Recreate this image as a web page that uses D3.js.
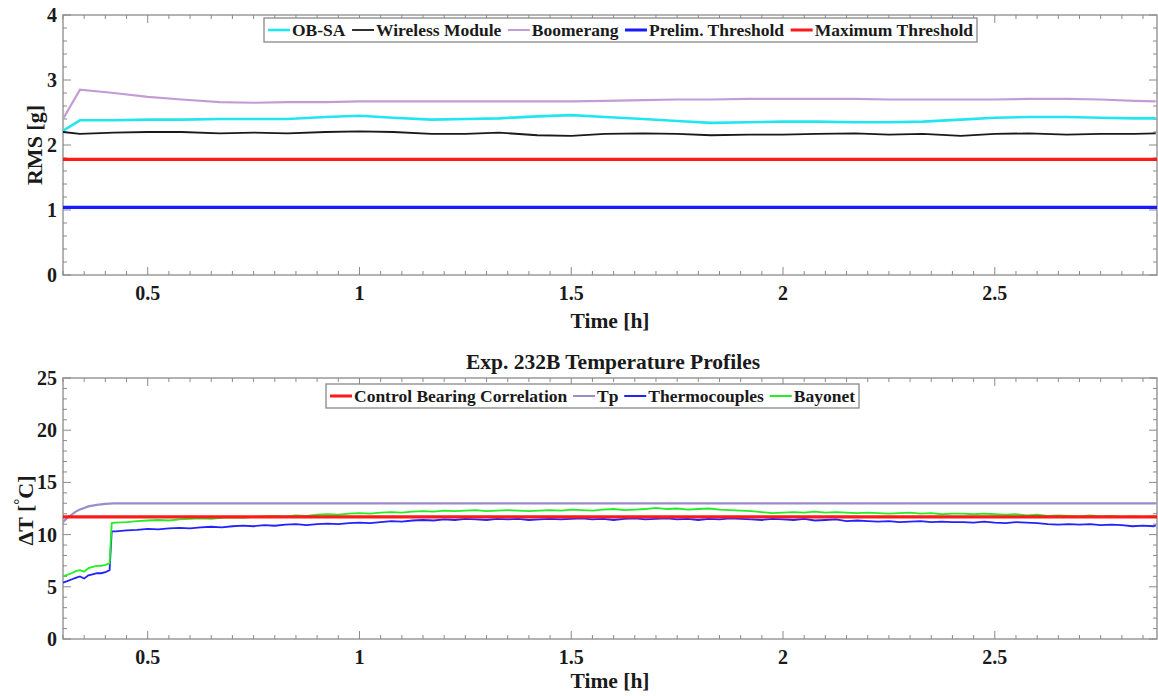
<!DOCTYPE html>
<html><head><meta charset="utf-8">
<script src="https://cdn.jsdelivr.net/npm/d3@7"></script>
<style>
html,body{margin:0;padding:0;background:#fff;}
svg text{font-family:"Liberation Serif","Times New Roman",serif;font-weight:bold;fill:#1a1a1a;}
</style></head><body>
<svg id="chart" width="1158" height="696"></svg>
<script>
// ---------------- DATA ----------------
const xTickValues = [0.5, 1, 1.5, 2, 2.5];
const xDomain = [0.3, 2.883];

// Top panel: RMS
const rmsTime = [0.30,0.34,0.42,0.50,0.58,0.67,0.75,0.83,0.92,1.00,1.08,1.17,1.25,1.33,1.42,1.50,1.58,1.67,1.75,1.83,1.92,2.00,2.08,2.17,2.25,2.33,2.42,2.50,2.58,2.67,2.75,2.83,2.88];
const obsa = [2.22,2.38,2.38,2.39,2.39,2.40,2.40,2.40,2.43,2.45,2.42,2.39,2.40,2.41,2.44,2.46,2.43,2.40,2.37,2.34,2.35,2.36,2.36,2.35,2.35,2.36,2.39,2.42,2.43,2.43,2.42,2.41,2.41];
const wireless = [2.20,2.17,2.19,2.20,2.20,2.18,2.19,2.18,2.20,2.21,2.20,2.17,2.17,2.19,2.15,2.14,2.17,2.18,2.17,2.15,2.16,2.16,2.17,2.18,2.16,2.17,2.14,2.17,2.18,2.16,2.17,2.17,2.18];
const boomerang = [2.40,2.85,2.80,2.74,2.70,2.66,2.65,2.66,2.66,2.67,2.67,2.67,2.67,2.67,2.67,2.67,2.68,2.69,2.70,2.70,2.71,2.71,2.71,2.71,2.70,2.70,2.70,2.70,2.71,2.71,2.70,2.68,2.67];
const prelimThreshold = 1.04;
const maximumThreshold = 1.78;
const rmsYTicks = [0, 1, 2, 3, 4];
const rmsLegend = ["OB-SA", "Wireless Module", "Boomerang", "Prelim. Threshold", "Maximum Threshold"];

// Bottom panel: temperature
const tempTime = [
  0.30,0.31,0.32,0.33,0.34,0.35,0.36,0.37,0.38,0.39,0.40,0.41,0.415,
  0.425,0.45,0.475,0.5,0.525,0.55,0.575,0.6,0.625,0.65,
  0.675,0.7,0.725,0.75,0.775,0.8,0.825,0.85,0.875,0.9,
  0.925,0.95,0.975,1.0,1.025,1.05,1.075,1.1,1.125,1.15,
  1.175,1.2,1.225,1.25,1.275,1.3,1.325,1.35,1.375,1.4,
  1.425,1.45,1.475,1.5,1.525,1.55,1.575,1.6,1.625,1.65,
  1.675,1.7,1.725,1.75,1.775,1.8,1.825,1.85,1.875,1.9,
  1.925,1.95,1.975,2.0,2.025,2.05,2.075,2.1,2.125,2.15,
  2.175,2.2,2.225,2.25,2.275,2.3,2.325,2.35,2.375,2.4,
  2.425,2.45,2.475,2.5,2.525,2.55,2.575,2.6,2.625,2.65,
  2.675,2.7,2.725,2.75,2.775,2.8,2.825,2.85,2.875,2.88];
const thermocouples = [
  5.4,5.55,5.7,5.85,6.0,5.8,6.1,6.2,6.3,6.3,6.4,6.6,10.3,
  10.3,10.4,10.45,10.55,10.5,10.6,10.65,10.6,10.7,10.75,
  10.7,10.8,10.85,10.8,10.9,10.85,10.95,11.0,10.9,11.0,
  11.05,11.0,11.1,11.15,11.1,11.2,11.3,11.25,11.35,11.4,
  11.35,11.45,11.4,11.5,11.45,11.4,11.5,11.45,11.5,11.4,
  11.45,11.5,11.45,11.5,11.55,11.45,11.5,11.4,11.5,11.55,
  11.45,11.5,11.55,11.45,11.5,11.4,11.5,11.45,11.55,11.5,
  11.45,11.4,11.5,11.45,11.4,11.5,11.35,11.4,11.45,11.3,
  11.35,11.3,11.25,11.3,11.2,11.25,11.3,11.2,11.25,11.2,
  11.2,11.15,11.25,11.15,11.1,11.2,11.15,11.1,11.0,10.95,
  11.0,10.95,11.0,10.9,10.95,10.9,10.8,10.85,10.8,10.9];
const bayonet = [
  6.0,6.15,6.3,6.5,6.6,6.45,6.8,6.9,7.0,7.0,7.1,7.25,11.1,
  11.15,11.2,11.3,11.35,11.4,11.35,11.45,11.5,11.55,11.5,
  11.6,11.65,11.6,11.7,11.75,11.8,11.75,11.85,11.8,11.9,
  11.95,11.9,12.0,12.05,12.0,12.1,12.15,12.1,12.2,12.25,
  12.2,12.3,12.25,12.3,12.35,12.25,12.3,12.35,12.3,12.25,
  12.3,12.35,12.3,12.4,12.35,12.3,12.4,12.45,12.35,12.4,
  12.45,12.55,12.45,12.5,12.4,12.45,12.5,12.4,12.35,12.3,
  12.25,12.15,12.05,12.1,12.15,12.1,12.2,12.1,12.15,12.1,
  12.05,12.1,12.05,12.0,12.05,12.1,12.0,12.05,11.95,12.0,
  12.0,11.95,12.0,11.95,11.9,11.95,11.85,11.9,11.8,11.85,
  11.8,11.75,11.85,11.75,11.8,11.7,11.75,11.7,11.75,11.7];
const tpTime = [0.30,0.31,0.32,0.33,0.34,0.35,0.36,0.38,0.40,0.42,0.45,2.88];
const tpValues = [11.2,11.6,11.9,12.2,12.4,12.55,12.7,12.85,12.95,13.0,13.0,13.0];
const controlBearing = 11.7;
const tempYTicks = [0, 5, 10, 15, 20, 25];
const tempLegend = ["Control Bearing Correlation", "Tp", "Thermocouples", "Bayonet"];
const tempTitle = "Exp. 232B Temperature Profiles";

// ---------------- DRAW ----------------
const svg = d3.select("#chart");
const L = 63, R = 1157;
const frameColor = "#8a8a8a";

function panel(top, bottom, yDomain, yTicks, yMinorStep, clipId, xLabelDy) {
  const x = d3.scaleLinear().domain(xDomain).range([L, R]);
  const y = d3.scaleLinear().domain(yDomain).range([bottom, top]);
  const g = svg.append("g");
  svg.append("clipPath").attr("id", clipId).append("rect")
    .attr("x", L).attr("y", top).attr("width", R - L).attr("height", bottom - top);
  const xMinor = d3.range(0.3, xDomain[1], 0.05).filter(v => !xTickValues.some(t => Math.abs(t - v) < 1e-6));
  const yMinor = d3.range(yDomain[0], yDomain[1] + 1e-9, yMinorStep).filter(v => !yTicks.some(t => Math.abs(t - v) < 1e-6));
  const tk = g.append("g").attr("stroke", frameColor).attr("stroke-width", 1);
  xMinor.forEach(v => {
    tk.append("line").attr("x1", x(v)).attr("x2", x(v)).attr("y1", bottom).attr("y2", bottom - 4);
    tk.append("line").attr("x1", x(v)).attr("x2", x(v)).attr("y1", top).attr("y2", top + 4);
  });
  xTickValues.forEach(v => {
    tk.append("line").attr("x1", x(v)).attr("x2", x(v)).attr("y1", bottom).attr("y2", bottom - 8);
    tk.append("line").attr("x1", x(v)).attr("x2", x(v)).attr("y1", top).attr("y2", top + 8);
  });
  yMinor.forEach(v => {
    tk.append("line").attr("x1", L).attr("x2", L + 4).attr("y1", y(v)).attr("y2", y(v));
    tk.append("line").attr("x1", R).attr("x2", R - 4).attr("y1", y(v)).attr("y2", y(v));
  });
  yTicks.forEach(v => {
    tk.append("line").attr("x1", L).attr("x2", L + 8).attr("y1", y(v)).attr("y2", y(v));
    tk.append("line").attr("x1", R).attr("x2", R - 8).attr("y1", y(v)).attr("y2", y(v));
  });
  g.append("rect").attr("x", L).attr("y", top).attr("width", R - L).attr("height", bottom - top)
    .attr("fill", "none").attr("stroke", frameColor).attr("stroke-width", 1.3);
  g.selectAll(".xl").data(xTickValues).join("text")
    .attr("x", d => x(d)).attr("y", bottom + 25).attr("text-anchor", "middle")
    .attr("font-size", 20).text(d => d);
  g.selectAll(".yl").data(yTicks).join("text")
    .attr("x", L - 6).attr("y", d => y(d) + 7).attr("text-anchor", "end")
    .attr("font-size", 20).text(d => d);
  g.append("text").attr("x", (L + R) / 2).attr("y", bottom + xLabelDy).attr("text-anchor", "middle")
    .attr("font-size", 21.5).text("Time [h]");
  return {x, y, g, clip: `url(#${clipId})`};
}

function drawLegend(items, left, top, width, height) {
  const lg = svg.append("g");
  lg.append("rect").attr("x", left).attr("y", top).attr("width", width).attr("height", height)
    .attr("fill", "#fff").attr("stroke", "#888").attr("stroke-width", 1.3);
  const sample = 22;
  const texts = items.map(it => lg.append("text").attr("font-size", 17.5).attr("y", top + height / 2 + 6).text(it.label));
  const tw = texts.map(t => t.node().getComputedTextLength());
  const fixed = d3.sum(tw) + items.length * (sample + 2);
  const gap = (width - 8 - fixed) / (items.length - 1);
  let cx = left + 4;
  items.forEach((it, i) => {
    lg.append("line").attr("x1", cx).attr("x2", cx + sample).attr("y1", top + height / 2).attr("y2", top + height / 2)
      .attr("stroke", it.color).attr("stroke-width", it.w);
    texts[i].attr("x", cx + sample + 2);
    cx += sample + 2 + tw[i] + gap;
  });
}

// ---- Top panel ----
const P1 = panel(15, 275, [0, 4], rmsYTicks, 0.2, "clip1", 53);
const line1 = (vals) => d3.line().x((d, i) => P1.x(rmsTime[i])).y(d => P1.y(d))(vals);
const lines1 = svg.append("g").attr("clip-path", P1.clip).attr("fill", "none");
lines1.append("path").attr("d", line1(obsa)).attr("stroke", "#22e6ef").attr("stroke-width", 2.6);
lines1.append("path").attr("d", line1(wireless)).attr("stroke", "#1a1a1a").attr("stroke-width", 1.8);
lines1.append("path").attr("d", line1(boomerang)).attr("stroke", "#c39cd6").attr("stroke-width", 2.2);
lines1.append("line").attr("x1", P1.x(xDomain[0])).attr("x2", P1.x(xDomain[1]))
  .attr("y1", P1.y(prelimThreshold)).attr("y2", P1.y(prelimThreshold)).attr("stroke", "#1a1aff").attr("stroke-width", 3.2);
lines1.append("line").attr("x1", P1.x(xDomain[0])).attr("x2", P1.x(xDomain[1]))
  .attr("y1", P1.y(maximumThreshold)).attr("y2", P1.y(maximumThreshold)).attr("stroke", "#ff1a1a").attr("stroke-width", 3.2);
svg.append("text").attr("transform", `translate(42,${(15 + 275) / 2}) rotate(-90)`)
  .attr("text-anchor", "middle").attr("font-size", 22).text("RMS [g]");
drawLegend([
  {label: rmsLegend[0], color: "#22e6ef", w: 2.6},
  {label: rmsLegend[1], color: "#1a1a1a", w: 1.8},
  {label: rmsLegend[2], color: "#c39cd6", w: 2},
  {label: rmsLegend[3], color: "#1a1aff", w: 3},
  {label: rmsLegend[4], color: "#ff1a1a", w: 3}
], 264, 18, 713, 24);

// ---- Bottom panel ----
const P2 = panel(378, 639, [0, 25], tempYTicks, 1, "clip2", 49);
const line2 = (ts, vals) => d3.line().x((d, i) => P2.x(ts[i])).y(d => P2.y(d))(vals);
const lines2 = svg.append("g").attr("clip-path", P2.clip).attr("fill", "none");
lines2.append("path").attr("d", line2(tpTime, tpValues)).attr("stroke", "#9d8ccc").attr("stroke-width", 2.2);
lines2.append("path").attr("d", line2(tempTime, thermocouples)).attr("stroke", "#2222ff").attr("stroke-width", 1.8);
lines2.append("path").attr("d", line2(tempTime, bayonet)).attr("stroke", "#22ee22").attr("stroke-width", 1.8);
lines2.append("line").attr("x1", P2.x(xDomain[0])).attr("x2", P2.x(xDomain[1]))
  .attr("y1", P2.y(controlBearing)).attr("y2", P2.y(controlBearing)).attr("stroke", "#ff1a1a").attr("stroke-width", 3.4);
svg.append("text").attr("x", 613).attr("y", 369).attr("text-anchor", "middle")
  .attr("font-size", 21.5).text(tempTitle);
const yl = svg.append("text").attr("transform", `translate(33,${(378 + 639) / 2 + 2}) rotate(-90)`)
  .attr("text-anchor", "middle").attr("font-size", 22);
yl.append("tspan").text("ΔT [");
yl.append("tspan").attr("dy", -9).attr("font-size", 15).text("°");
yl.append("tspan").attr("dy", 9).text("C]");
drawLegend([
  {label: tempLegend[0], color: "#ff1a1a", w: 3},
  {label: tempLegend[1], color: "#9d8ccc", w: 2},
  {label: tempLegend[2], color: "#2222ff", w: 2},
  {label: tempLegend[3], color: "#22ee22", w: 2}
], 326, 384, 533, 24);
</script></body></html>
